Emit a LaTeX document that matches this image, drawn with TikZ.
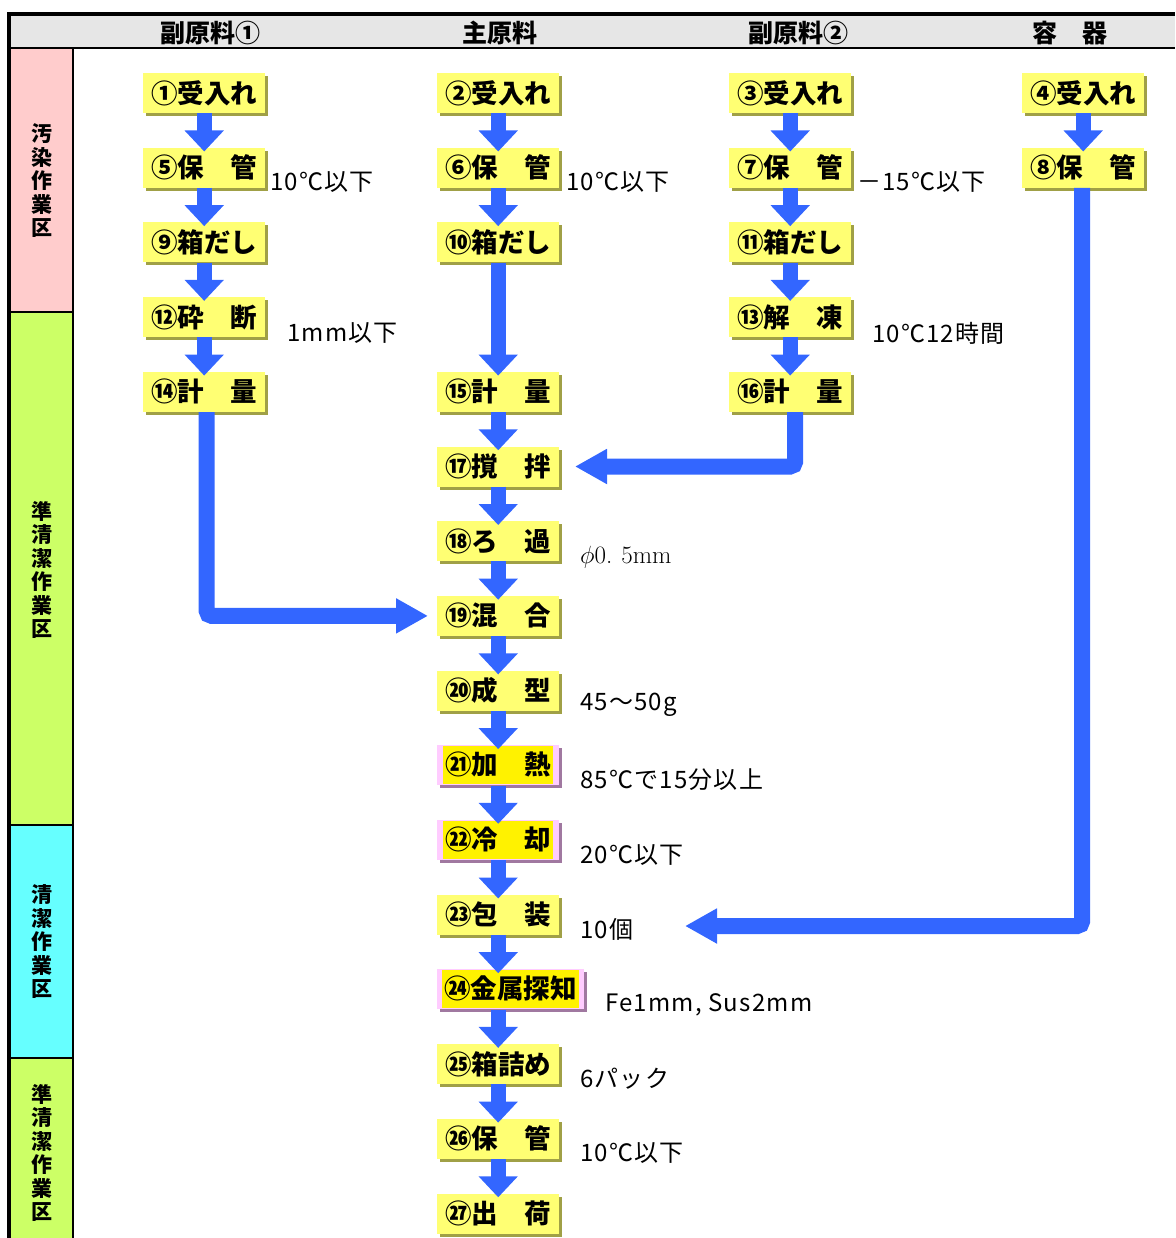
\documentclass[tikz,border=0pt]{standalone}
\usepackage{fontspec}
\newfontfamily\jp{Noto Sans CJK JP}
\newfontfamily\jpann[LetterSpace=5]{Noto Sans CJK JP}
\usetikzlibrary{arrows.meta,shadows,calc}
\definecolor{boxy}{RGB}{255,255,115}
\definecolor{boxsh}{RGB}{160,160,70}
\definecolor{ccppink}{RGB}{255,204,255}
\definecolor{ccpsh}{RGB}{160,120,160}
\definecolor{flowblue}{RGB}{51,102,255}
\definecolor{hdrgrey}{RGB}{230,230,230}
\definecolor{zpink}{RGB}{255,204,204}
\definecolor{zgreen}{RGB}{204,255,102}
\definecolor{zcyan}{RGB}{102,255,255}
\newcommand\ccptext[1]{{\setlength{\fboxsep}{2pt}\colorbox{yellow}{\rule[-8pt]{0pt}{34pt}#1}}}
\begin{document}
\begin{tikzpicture}[x=1pt,y=-1pt,
  basebox/.style={minimum width=122pt, minimum height=40pt, inner xsep=8pt, inner ysep=0pt, anchor=west,
    font={\jp\bfseries\fontsize{26.5}{26.5}\selectfont}},
  box/.style={basebox, fill=boxy, general shadow={fill=boxsh, shadow xshift=3pt, shadow yshift=-3pt}},
  ccp/.style={basebox, inner xsep=5pt, fill=ccppink, general shadow={fill=ccpsh, shadow xshift=3pt, shadow yshift=-3pt}},
  ann/.style={anchor=west, inner sep=0pt, font={\jpann\fontsize{24}{24}\selectfont}},
  hdr/.style={inner sep=0pt, font={\jp\bfseries\fontsize{25}{25}\selectfont}},
  zone/.style={inner sep=0pt, align=center, font={\jp\bfseries\fontsize{21}{23.5}\selectfont}},
  flow/.style={draw=flowblue, line width=15pt, -{Triangle[width=38pt,length=21pt]}},
  bigflow/.style={draw=flowblue, line width=16pt, rounded corners=5pt, -{Triangle[width=33pt,length=32pt]}}
]
\useasboundingbox (0,0) rectangle (1175,1238);
% header and zones
\fill[hdrgrey] (9,14) rectangle (1175,48);
\fill[zpink] (9,48) rectangle (73,312);
\fill[zgreen] (9,312) rectangle (73,825);
\fill[zcyan] (9,825) rectangle (73,1058);
\fill[zgreen] (9,1058) rectangle (73,1238);
\draw[line width=1.5pt] (9,312) -- (73,312) (9,825) -- (73,825) (9,1058) -- (73,1058);
\draw[line width=1.5pt] (73,48) -- (73,1238);
\draw[line width=2.5pt] (9,48) -- (1175,48);
\draw[line width=3.5pt] (7.25,14) -- (1175,14);
\draw[line width=3.5pt] (9,14) -- (9,1238);
\node[hdr] (h1) at (210,33) {副原料①};
\node[hdr] (h2) at (500,33) {主原料};
\node[hdr] (h3) at (798,33) {副原料②};
\node[hdr] (h4) at (1070,33) {容　器};
\node[zone] (z1) at (42,181) {汚\\染\\作\\業\\区};
\node[zone] (z2) at (42,570) {準\\清\\潔\\作\\業\\区};
\node[zone] (z3) at (42,942) {清\\潔\\作\\業\\区};
\node[zone] (z4) at (42,1153) {準\\清\\潔\\作\\業\\区};
% boxes
\node[box] (n1) at (143,93) {①受入れ};
\node[box] (n2) at (437,93) {②受入れ};
\node[box] (n3) at (729,93) {③受入れ};
\node[box] (n4) at (1022,93) {④受入れ};
\node[box] (n5) at (143,167.7) {⑤保　管};
\node[box] (n6) at (437,167.7) {⑥保　管};
\node[box] (n7) at (729,167.7) {⑦保　管};
\node[box] (n8) at (1022,167.7) {⑧保　管};
\node[box] (n9) at (143,242.4) {⑨箱だし};
\node[box] (n10) at (437,242.4) {⑩箱だし};
\node[box] (n11) at (729,242.4) {⑪箱だし};
\node[box] (n12) at (143,317.1) {⑫砕　断};
\node[box] (n13) at (729,317.1) {⑬解　凍};
\node[box] (n14) at (143,391.8) {⑭計　量};
\node[box] (n15) at (437,391.8) {⑮計　量};
\node[box] (n16) at (729,391.8) {⑯計　量};
\node[box] (n17) at (437,466.5) {⑰撹　拌};
\node[box] (n18) at (437,541.2) {⑱ろ　過};
\node[box] (n19) at (437,615.9) {⑲混　合};
\node[box] (n20) at (437,690.6) {⑳成　型};
\node[ccp] (n21) at (437,765.3) {\ccptext{㉑加　熱}};
\node[ccp] (n22) at (437,840) {\ccptext{㉒冷　却}};
\node[box] (n23) at (437,914.7) {㉓包　装};
\node[ccp] (n24) at (437,989.4) {\ccptext{㉔金属探知}};
\node[box] (n25) at (437,1064.1) {㉕箱詰め};
\node[box] (n26) at (437,1138.8) {㉖保　管};
\node[box] (n27) at (437,1213.5) {㉗出　荷};
% annotations
\node[ann] (a5) at (270,182) {10℃以下};
\node[ann] (a6) at (566,182) {10℃以下};
\node[ann] (a7) at (857,182) {－15℃以下};
\node[ann] (a12) at (287,333) {1mm以下};
\node[ann] (a13) at (872,333) {10℃12時間};
\node[anchor=west, inner sep=0pt, font=\fontsize{25}{25}\selectfont] (a18) at (580,557) {$\phi$0.\hspace{9pt}5mm};
\node[ann] (a20) at (580,705) {45～50g};
\node[ann] (a21) at (580,780) {85℃で15分以上};
\node[ann] (a22) at (580,855) {20℃以下};
\node[ann] (a23) at (580,929) {10個};
\node[ann] (a24) at (605,1005) {Fe1mm, Sus2mm};
\node[ann] (a25) at (580,1079) {6パック};
\node[ann] (a26) at (580,1153) {10℃以下};
% short arrows
\foreach \a/\b in {n1/n5,n5/n9,n9/n12,n12/n14,n2/n6,n6/n10,n10/n15,n15/n17,n17/n18,n18/n19,n19/n20,n20/n21,n21/n22,n22/n23,n23/n24,n3/n7,n7/n11,n11/n13,n13/n16,n4/n8}
  \draw[flow] (\a.south) -- ($(\a.south |- \b.north)+(0pt,-4pt)$);
\foreach \a/\b in {n24/n25,n25/n26,n26/n27}
  \draw[flow] (\a.south -| \b.north) -- ($(\b.north)+(0pt,-4pt)$);
% long arrows
\coordinate (t19) at (428,615.9);
\coordinate (t17) at (575,466.5);
\coordinate (t23) at (685,926);
\draw[bigflow] ($(n14.south)+(2.5pt,0pt)$) -- ($(n14.south |- t19)+(2.5pt,0pt)$) -- (t19);
\draw[bigflow] ($(n16.south)+(5pt,0pt)$) -- ($(n16.south |- t17)+(5pt,0pt)$) -- (t17);
\draw[bigflow] ($(n8.south)+(-1pt,0pt)$) -- ($(n8.south |- t23)+(-1pt,0pt)$) -- (t23);
\end{tikzpicture}
\end{document}
